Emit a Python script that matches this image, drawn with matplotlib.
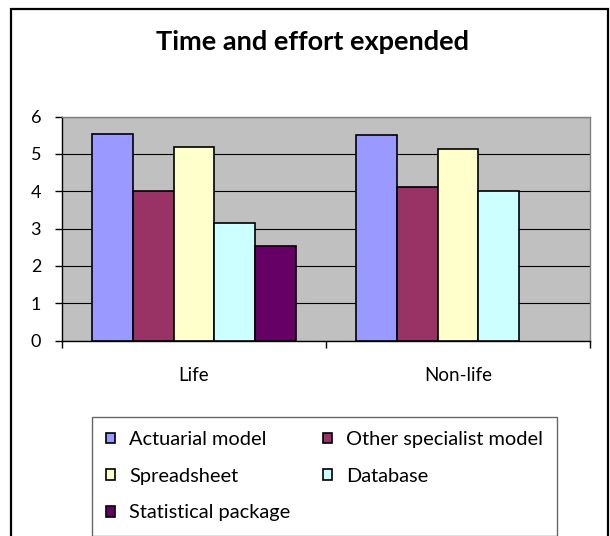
import numpy as np
import matplotlib
matplotlib.use("Agg")
import matplotlib.pyplot as plt
from matplotlib.patches import Rectangle

plt.rcParams['font.family'] = ['Lato', 'DejaVu Sans']

categories = ['Life', 'Non-life']
series = ['Actuarial model', 'Other specialist model', 'Spreadsheet',
          'Database', 'Statistical package']
colors = ['#9999FF', '#993366', '#FFFFCC', '#CCFFFF', '#660066']
actuarial = [5.52, 5.50]
other_specialist = [4.0, 4.12]
spreadsheet = [5.19, 5.14]
database = [3.16, 4.01]
statistical = [2.53, np.nan]
values = [actuarial, other_specialist, spreadsheet, database, statistical]

W, H = 610, 536
fig = plt.figure(figsize=(W / 100, H / 100), dpi=100)
ax = fig.add_axes([62 / W, 1 - 340.5 / H, 528 / W, 224 / H])
ax.set_facecolor('#C0C0C0')

# excel style clustered bars, gap width 150%
n = len(series)
width = 1 / (n + 1.5)
x = np.arange(len(categories))
bars = []
for i, (name, vals) in enumerate(zip(series, values)):
    offs = (i - (n - 1) / 2) * width
    b = ax.bar(x + offs, vals, width, color=colors[i], edgecolor='black',
               linewidth=1.2, label=name, zorder=3)
    bars.append(b)

ax.set_xlim(-0.5, len(categories) - 0.5)
ax.set_ylim(0, 6)
ax.set_yticks(range(7))
ax.yaxis.grid(True, color='black', linewidth=0.8, zorder=1)
ax.set_axisbelow(True)

ax.set_xticks(x)
ax.set_xticklabels(categories)
ax.set_xticks(np.arange(-0.5, len(categories)), minor=True)
ax.tick_params(axis='x', which='major', length=0, pad=19, labelsize=13.5)
ax.tick_params(axis='x', which='minor', length=5, width=1, direction='out')
ax.tick_params(axis='y', length=5, width=1, direction='out', pad=10,
               labelsize=13)

for side in ['top', 'right']:
    ax.spines[side].set_color('#808080')
    ax.spines[side].set_linewidth(1)
for side in ['left', 'bottom']:
    ax.spines[side].set_color('black')
    ax.spines[side].set_linewidth(1)

fig.text(312 / W, 1 - 42 / H, 'Time and effort expended', ha='center',
         va='center', fontsize=19.5, fontweight='bold')

# legend filled column-wise, so reorder for row-major reading
order = [0, 2, 4, 1, 3]
leg = fig.legend([bars[k] for k in order], [series[k] for k in order],
                 ncol=2, loc='upper left', mode='expand',
                 bbox_to_anchor=(91.5 / W, 0, 465.5 / W, 1 - 416.7 / H),
                 fontsize=14.4, handlelength=0.45, handleheight=0.45,
                 handletextpad=0.7, labelspacing=0.98, borderpad=0.72,
                 borderaxespad=0, fancybox=False, frameon=True)
leg.get_frame().set_edgecolor('#404040')
leg.get_frame().set_linewidth(1)

# chart border
fig.add_artist(Rectangle((11 / W, -0.05), 597 / W, 1.05 - 9 / H,
                         transform=fig.transFigure, fill=False,
                         edgecolor='black', linewidth=1.6))

fig.savefig('out.png', dpi=100)
